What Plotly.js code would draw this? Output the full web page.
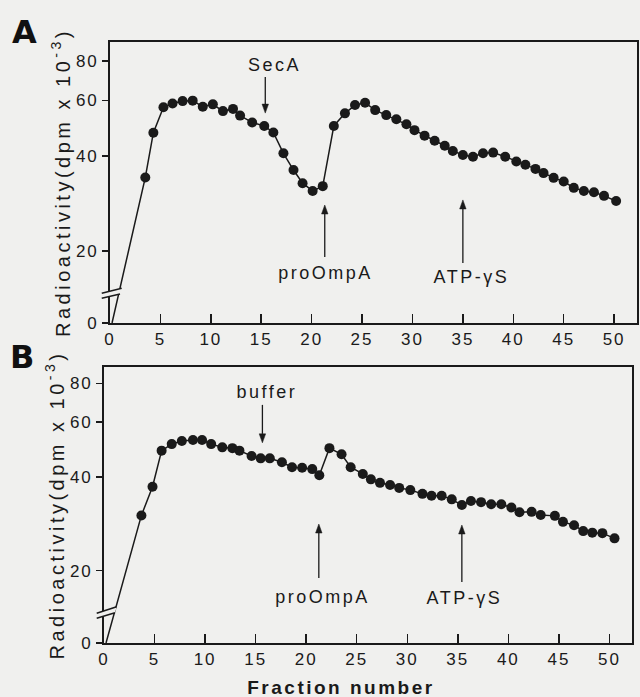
<!DOCTYPE html>
<html>
<head>
<meta charset="utf-8">
<script src="https://cdn.plot.ly/plotly-3.0.1.min.js"></script>
<style>
  html, body { margin: 0; padding: 0; background: #f0f0ee; }
  #chart { width: 640px; height: 697px; }
  #chart g.xtick text, #chart g.x2tick text, #chart g.ytick text, #chart g.y2tick text { letter-spacing: 2px; }
  #chart text.ytitle, #chart text.y2title { letter-spacing: 3.5px; }
  #chart g.annotation text { letter-spacing: 2.5px; }
  #chart g.annotation[data-index="6"] text, #chart g.annotation[data-index="7"] text { letter-spacing: 0px; }
</style>
</head>
<body>
<div id="chart"></div>
<script>
// Panel A (SecA) — fraction number and radioactivity (dpm x 10^-3); first point is the zero start
const fractionsA = [0.2, 3.5, 4.3, 5.3, 6.2, 7.2, 8.2, 9.2, 10.2, 11.2, 12.2, 12.9, 14.1, 15.3, 16.2, 17.2, 18.2, 19.1, 20.1, 21.1, 22.2, 23.3, 24.3, 25.3, 26.3, 27.4, 28.4, 29.4, 30.2, 31.2, 32.2, 33.2, 34.0, 35.0, 36.0, 37.0, 38.0, 39.2, 40.3, 41.2, 42.2, 43.0, 44.0, 45.0, 46.0, 47.0, 48.0, 49.0, 50.2];
const countsA    = [0, 34.2, 47.4, 57.1, 58.7, 59.7, 59.9, 57.3, 58.3, 55.5, 56.4, 53.7, 51.1, 49.8, 47.5, 40.8, 36.1, 32.8, 31.0, 32.1, 49.8, 54.6, 58.0, 59.0, 55.9, 53.9, 52.3, 50.4, 48.3, 46.4, 44.7, 43.1, 41.5, 40.3, 39.8, 40.8, 41.0, 39.8, 38.4, 37.5, 36.4, 35.3, 34.1, 33.2, 31.7, 31.0, 30.7, 29.9, 28.8];

// Panel B (buffer)
const fractionsB = [0.2, 3.7, 4.8, 5.7, 6.7, 7.7, 8.8, 9.7, 10.6, 11.7, 12.7, 13.4, 14.6, 15.5, 16.4, 17.6, 18.6, 19.6, 20.6, 21.3, 22.3, 23.5, 24.4, 25.6, 26.4, 27.3, 28.3, 29.2, 30.3, 31.5, 32.4, 33.4, 34.4, 35.4, 36.3, 37.3, 38.3, 39.3, 40.3, 41.1, 42.3, 43.2, 44.6, 45.4, 46.5, 47.4, 48.3, 49.3, 50.5];
const countsB    = [0, 30.1, 37.2, 48.6, 51.0, 52.2, 52.6, 52.6, 51.0, 49.8, 49.5, 48.6, 46.7, 45.9, 45.9, 44.6, 43.0, 42.8, 42.4, 40.5, 49.5, 47.3, 43.0, 40.9, 39.3, 38.3, 37.7, 36.9, 36.3, 35.3, 34.8, 34.8, 33.9, 32.5, 33.5, 33.2, 32.7, 32.7, 31.9, 30.8, 30.9, 30.2, 30.0, 28.7, 28.0, 26.8, 26.5, 26.4, 25.4];

const xTickVals = [0, 5, 10, 15, 20, 25, 30, 35, 40, 45, 50];
const yTickVals = [0, 20, 40, 60, 80];
const yTickText = ['0', '20', '40', '60', '80'];

const panelLabels = ['A', 'B'];
const eventLabels = { A: ['SecA', 'proOmpA', 'ATP-γS'], B: ['buffer', 'proOmpA', 'ATP-γS'] };

// ---- layout constants ----
const ink = '#1a1a1a';
const bg = '#f0f0ee';
const font = 'Liberation Sans, Arial, sans-serif';
const rangeA = [1.0728, 1.9632];
const rangeB = [1.0688, 1.9554];
const floorA = Math.pow(10, rangeA[0]);
const floorB = Math.pow(10, rangeB[0]);
const heightA = 281, heightB = 276; // plot heights in px

function mapZero(vals, floor) { return vals.map(v => v === 0 ? floor : v); }
function sizes(vals) { return vals.map(v => v === 0 ? 0 : 10); }

const traces = [
  { x: fractionsA, y: mapZero(countsA, floorA), xaxis: 'x', yaxis: 'y', type: 'scatter', mode: 'lines+markers',
    line: { color: ink, width: 1.5 }, marker: { color: ink, opacity: 1, size: sizes(countsA), line: { width: 0 } }, cliponaxis: false, showlegend: false },
  { x: fractionsB, y: mapZero(countsB, floorB), xaxis: 'x2', yaxis: 'y2', type: 'scatter', mode: 'lines+markers',
    line: { color: ink, width: 1.5 }, marker: { color: ink, opacity: 1, size: sizes(countsB), line: { width: 0 } }, cliponaxis: false, showlegend: false }
];

function xAxis(domain, range, anchor) {
  return { domain: domain, range: range, anchor: anchor, type: 'linear',
    tickvals: xTickVals, ticktext: xTickVals.map(String), ticks: 'inside', ticklen: 9, tickwidth: 1.5, tickcolor: ink,
    showline: true, linecolor: ink, linewidth: 1.8, mirror: true, showgrid: false, zeroline: false,
    tickfont: { family: font, size: 17, color: ink }, fixedrange: true };
}
function yAxis(domain, range, anchor, floor) {
  return { domain: domain, range: range, anchor: anchor, type: 'log',
    tickvals: [floor].concat(yTickVals.slice(1)), ticktext: yTickText, ticks: 'outside', ticklen: 6, tickwidth: 1.5, tickcolor: ink,
    showline: true, linecolor: ink, linewidth: 1.8, mirror: true, showgrid: false, zeroline: false,
    tickfont: { family: font, size: 17, color: ink },
    title: { text: 'Radioactivity(dpm x 10<sup>-3</sup>)', font: { family: font, size: 20, color: ink }, standoff: 4 },
    automargin: false, fixedrange: true };
}

function label(xref, yref, x, y, text) {
  return { xref: xref, yref: yref, x: x, y: y, text: text, showarrow: false,
    font: { family: font, size: 18, color: ink }, xanchor: 'center', yanchor: 'middle' };
}

const annotations = [
  label('x', 'y domain', 16.3, 0.918, eventLabels.A[0]),
  label('x', 'y domain', 21.4, 0.178, eventLabels.A[1]),
  label('x', 'y domain', 35.9, 0.164, eventLabels.A[2]),
  label('x2', 'y2 domain', 16.1, 0.909, eventLabels.B[0]),
  label('x2', 'y2 domain', 21.6, 0.167, eventLabels.B[1]),
  label('x2', 'y2 domain', 35.7, 0.163, eventLabels.B[2]),
  // panel letters
  { xref: 'paper', yref: 'paper', x: 0.038, y: 0.954, text: '<b>' + panelLabels[0] + '</b>', showarrow: false,
    font: { family: 'DejaVu Sans', size: 32, color: '#111' }, xanchor: 'center', yanchor: 'middle' },
  { xref: 'paper', yref: 'paper', x: 0.035, y: 0.488, text: '<b>' + panelLabels[1] + '</b>', showarrow: false,
    font: { family: 'DejaVu Sans', size: 32, color: '#111' }, xanchor: 'center', yanchor: 'middle' },
  // x-axis title
  { xref: 'paper', yref: 'paper', x: 0.533, y: 0.0143, text: '<b>Fraction number</b>', showarrow: false,
    font: { family: font, size: 19, color: ink }, xanchor: 'center', yanchor: 'middle' }
];

// arrow: vertical shaft from tail to head plus a small filled triangular head
function arrowShapes(xref, yref, x, yHead, yTail, plotH) {
  const dir = yTail > yHead ? 1 : -1;           // +1: arrow points down
  const hl = 9 / plotH;                           // head length (domain units)
  const hw = 0.32;                                 // head half-width (x units)
  const yBase = yHead + dir * hl;
  return [
    { type: 'line', xref: xref, yref: yref, layer: 'above', x0: x, x1: x, y0: yTail, y1: yBase, line: { color: ink, width: 1.3 } },
    { type: 'path', xref: xref, yref: yref, layer: 'above', fillcolor: ink, line: { color: ink, width: 0.5 },
      path: `M ${x} ${yHead} L ${x - hw} ${yBase} L ${x + hw} ${yBase} Z` }
  ];
}

function breakShapes(xd, yd, up, low) {
  return [
    { type: 'path', xref: xd, yref: yd, layer: 'above', line: { width: 0 }, fillcolor: bg,
      path: `M ${low[0]} ${low[1]} L ${low[2]} ${low[3]} L ${up[2]} ${up[3]} L ${up[0]} ${up[1]} Z` },
    { type: 'line', xref: xd, yref: yd, layer: 'above', x0: up[0], y0: up[1], x1: up[2], y1: up[3], line: { color: ink, width: 1.5 } },
    { type: 'line', xref: xd, yref: yd, layer: 'above', x0: low[0], y0: low[1], x1: low[2], y1: low[3], line: { color: ink, width: 1.5 } }
  ];
}

const shapes = []
  .concat(arrowShapes('x', 'y domain', 15.4, 0.747, 0.747 + 36 / heightA, heightA))
  .concat(arrowShapes('x', 'y domain', 21.3, 0.42, 0.42 - 52 / heightA, heightA))
  .concat(arrowShapes('x', 'y domain', 35.0, 0.438, 0.438 - 63 / heightA, heightA))
  .concat(arrowShapes('x2', 'y2 domain', 15.67, 0.725, 0.725 + 38 / heightB, heightB))
  .concat(arrowShapes('x2', 'y2 domain', 21.25, 0.431, 0.431 - 54 / heightB, heightB))
  .concat(arrowShapes('x2', 'y2 domain', 35.4, 0.4275, 0.4275 - 57 / heightB, heightB))
  .concat(breakShapes('x domain', 'y domain', [-0.0157, 0.1057, 0.0222, 0.1235], [-0.0157, 0.0879, 0.019, 0.1032]))
  .concat(breakShapes('x2 domain', 'y2 domain', [-0.0138, 0.1076, 0.024, 0.1315], [-0.0138, 0.0895, 0.0208, 0.1098]));

const layout = {
  width: 640, height: 697,
  margin: { l: 0, r: 0, t: 0, b: 0 },
  paper_bgcolor: bg, plot_bgcolor: bg,
  showlegend: false,
  xaxis: xAxis([0.1719, 0.9953], [0, 52.27], 'y'),
  yaxis: yAxis([0.5366, 0.9397], rangeA, 'x', floorA),
  xaxis2: xAxis([0.1625, 0.9875], [0, 52.23], 'y2'),
  yaxis2: yAxis([0.0775, 0.4735], rangeB, 'x2', floorB),
  annotations: annotations,
  shapes: shapes
};

Plotly.newPlot('chart', traces, layout, { staticPlot: true, displayModeBar: false });
</script>
</body>
</html>
